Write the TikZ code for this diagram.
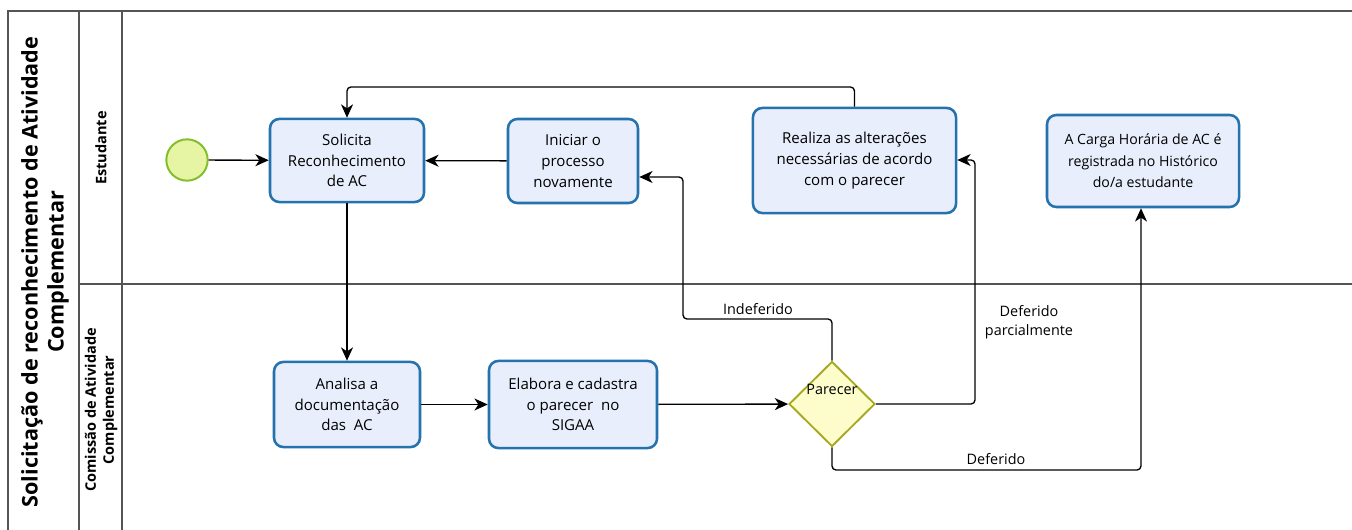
\documentclass[tikz,border=0pt]{standalone}
\usepackage{fontspec}
\setmainfont{Open Sans}
\usetikzlibrary{shapes.geometric,arrows.meta}
\definecolor{taskfill}{HTML}{E8EEFB}
\definecolor{taskdraw}{HTML}{2472AE}
\definecolor{startfill}{HTML}{E6F5A4}
\definecolor{startdraw}{HTML}{84BE2E}
\definecolor{gwfill}{HTML}{FDFDCC}
\definecolor{gwdraw}{HTML}{A8A820}
\definecolor{framecol}{HTML}{555555}
\tikzset{
  task/.style={draw=taskdraw, fill=taskfill, line width=1.9pt, rounded corners=7pt,
    align=center, inner sep=2pt, font=\fontsize{11.3}{15.6}\selectfont},
  startev/.style={circle, draw=startdraw, fill=startfill, line width=1.5pt, minimum size=31pt, inner sep=0pt},
  gateway/.style={diamond, draw=gwdraw, fill=gwfill, line width=1.4pt, minimum width=64.5pt, minimum height=63.8pt, inner sep=0pt},
  flow/.style={draw=black, line width=1pt, rounded corners=3pt, -{Stealth[length=10pt,width=9pt,inset=3pt]}},
  flowlbl/.style={font=\fontsize{10.8}{14.2}\selectfont, align=center, inner sep=0pt},
  frame/.style={draw=framecol, line width=1.2pt},
  lanelbl/.style={font=\bfseries\fontsize{10.9}{13.5}\selectfont, align=center, rotate=90, inner sep=0pt},
}
\begin{document}
\begin{tikzpicture}[x=0.75pt,y=-0.75pt]
\useasboundingbox (0,0) rectangle (1352,530);
% pool frame
\draw[frame] (8,530) -- (8,11) -- (1352,11);
\draw[frame] (79,11) -- (79,530);
\draw[frame] (122,11) -- (122,530);
\draw[frame] (79,284) -- (1352,284);
\node[font=\bfseries\fontsize{16.2}{19.5}\selectfont, align=center, rotate=90, inner sep=0pt] (title) at (45,272)
  {Solicitação de reconhecimento de Atividade\\Complementar};
\node[lanelbl] (lane1) at (101,148) {Estudante};
\node[lanelbl] (lane2) at (101,410) {Comissão de Atividade\\Complementar};
% nodes
\node[startev] (start) at (187,160) {};
\node[task, minimum width=115.5pt, minimum height=62.3pt] (sol) at (347,160.5) {Solicita\\Reconhecimento\\de AC};
\node[task, minimum width=97.5pt, minimum height=63pt] (ini) at (573,161) {Iniciar o\\processo\\novamente};
\node[task, minimum width=152.3pt, minimum height=78.8pt] (rea) at (854.5,160.5) {Realiza as alterações\\necessárias de acordo\\com o parecer};
\node[task, minimum width=144pt, minimum height=69pt, font=\fontsize{10.6}{16.2}\selectfont] (car) at (1143,161) {A Carga Horária de AC é\\registrada no Histórico\\do/a estudante};
\node[task, minimum width=109.5pt, minimum height=63.8pt] (ana) at (347,404.5) {Analisa a\\documentação\\das~ AC};
\node[task, minimum width=126pt, minimum height=65.3pt] (ela) at (573,404.5) {Elabora e cadastra\\o parecer~ no\\SIGAA};
\node[gateway] (gw) at (832,404) {};
\node[flowlbl, font=\fontsize{10.8}{14}\selectfont] (gwlbl) at (832,389) {Parecer};
% flows
\draw[flow] (start) -- (sol);
\draw[flow] (ini) -- (sol);
\draw[flow] (rea.north) |- (347,87) -- (sol.north);
\draw[flow] (sol) -- (ana);
\draw[flow] (ana) -- (ela);
\draw[flow] (ela) -- (gw);
\draw[flow] (gw.north) |- (683,319) |- (ini.east |- 0,177);
\draw[flow] (gw.east) -| (975,160) -- (rea.east |- 0,160);
\draw[flow] (gw.south) |- (1141,470) -- (car.south -| 1141,0);
\node[flowlbl] (lblind) at (758,309) {Indeferido};
\node[flowlbl] (lbldp) at (1029,322.5) {Deferido\\parcialmente};
\node[flowlbl] (lbldef) at (996,459) {Deferido};
\end{tikzpicture}
\end{document}
